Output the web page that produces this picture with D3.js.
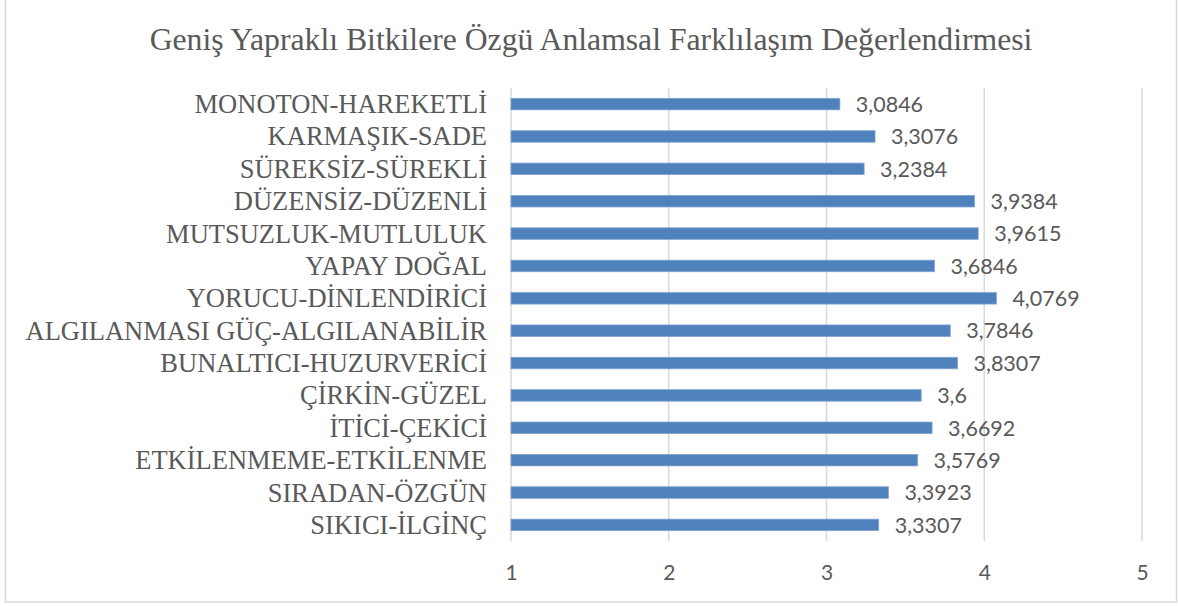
<!DOCTYPE html>
<html>
<head>
<meta charset="utf-8">
<script src="https://cdn.jsdelivr.net/npm/d3@7"></script>
<style>
  html, body { margin: 0; padding: 0; background: #ffffff; }
  svg { display: block; }
</style>
</head>
<body>
<svg id="chart" width="1178" height="606"></svg>
<script>
// Semantic differential pairs, top to bottom
const categories = [
  "MONOTON-HAREKETLİ",
  "KARMAŞIK-SADE",
  "SÜREKSİZ-SÜREKLİ",
  "DÜZENSİZ-DÜZENLİ",
  "MUTSUZLUK-MUTLULUK",
  "YAPAY DOĞAL",
  "YORUCU-DİNLENDİRİCİ",
  "ALGILANMASI GÜÇ-ALGILANABİLİR",
  "BUNALTICI-HUZURVERİCİ",
  "ÇİRKİN-GÜZEL",
  "İTİCİ-ÇEKİCİ",
  "ETKİLENMEME-ETKİLENME",
  "SIRADAN-ÖZGÜN",
  "SIKICI-İLGİNÇ"
];

// Mean scores (1–5 scale)
const values = [
  3.0846, 3.3076, 3.2384, 3.9384, 3.9615, 3.6846, 4.0769,
  3.7846, 3.8307, 3.6, 3.6692, 3.5769, 3.3923, 3.3307
];

const xTicks = [1, 2, 3, 4, 5];
const title = "Geniş Yapraklı Bitkilere Özgü Anlamsal Farklılaşım Değerlendirmesi";

const W = 1178, H = 606;
const plot = { left: 511, right: 1142, top: 88, bottom: 541 };
const grey = "#595959";
const serif = "'Liberation Serif', 'Times New Roman', serif";
const sans = "Lato, 'Open Sans', sans-serif";

const svg = d3.select("#chart");

// outer chart frame
svg.append("rect")
  .attr("x", 5.5).attr("y", -2)
  .attr("width", 1171).attr("height", 604)
  .attr("fill", "#ffffff")
  .attr("stroke", "#d9d9d9")
  .attr("stroke-width", 1.5);

const x = d3.scaleLinear().domain([1, 5]).range([plot.left, plot.right]);
const y = d3.scaleBand().domain(categories).range([plot.top, plot.bottom])
  .paddingInner(0.645).paddingOuter(0.32);

// title
svg.append("text")
  .attr("x", 591).attr("y", 50)
  .attr("text-anchor", "middle")
  .attr("font-family", serif)
  .attr("font-size", 31.7)
  .attr("fill", grey)
  .text(title);

// vertical gridlines
svg.append("g")
  .selectAll("line")
  .data(xTicks)
  .join("line")
  .attr("x1", d => x(d)).attr("x2", d => x(d))
  .attr("y1", plot.top).attr("y2", plot.bottom)
  .attr("stroke", "#d9d9d9")
  .attr("stroke-width", 1.5);

// x axis tick labels
const xAxis = d3.axisBottom(x).tickValues(xTicks).tickSize(0).tickPadding(0)
  .tickFormat(d3.format("d"));
const gx = svg.append("g")
  .attr("transform", `translate(0,${plot.bottom + 24})`)
  .call(xAxis);
gx.select(".domain").remove();
gx.selectAll("text")
  .attr("font-family", sans)
  .attr("font-size", 21)
  .attr("fill", grey)
  .attr("dy", "0.71em");

// category axis labels
const yAxis = d3.axisLeft(y).tickSize(0).tickPadding(24);
const gy = svg.append("g")
  .attr("transform", `translate(${plot.left},0)`)
  .call(yAxis);
gy.select(".domain").remove();
gy.selectAll("text")
  .attr("font-family", serif)
  .attr("font-size", 26.5)
  .attr("fill", grey)
  .attr("dy", "0.34em");

// bars
svg.append("g")
  .selectAll("rect")
  .data(values)
  .join("rect")
  .attr("x", x(1))
  .attr("y", (d, i) => y(categories[i]))
  .attr("width", d => x(d) - x(1))
  .attr("height", y.bandwidth())
  .attr("fill", "#4f81bd")
  .attr("stroke", "#7fa3d1")
  .attr("stroke-width", 0.8);

// value labels
const fmt = d => String(d).replace(".", ",");
svg.append("g")
  .selectAll("text")
  .data(values)
  .join("text")
  .attr("x", d => x(d) + 16)
  .attr("y", (d, i) => y(categories[i]) + y.bandwidth() / 2)
  .attr("dy", "0.36em")
  .attr("font-family", sans)
  .attr("font-size", 21.5)
  .attr("fill", grey)
  .text(fmt);
</script>
</body>
</html>
